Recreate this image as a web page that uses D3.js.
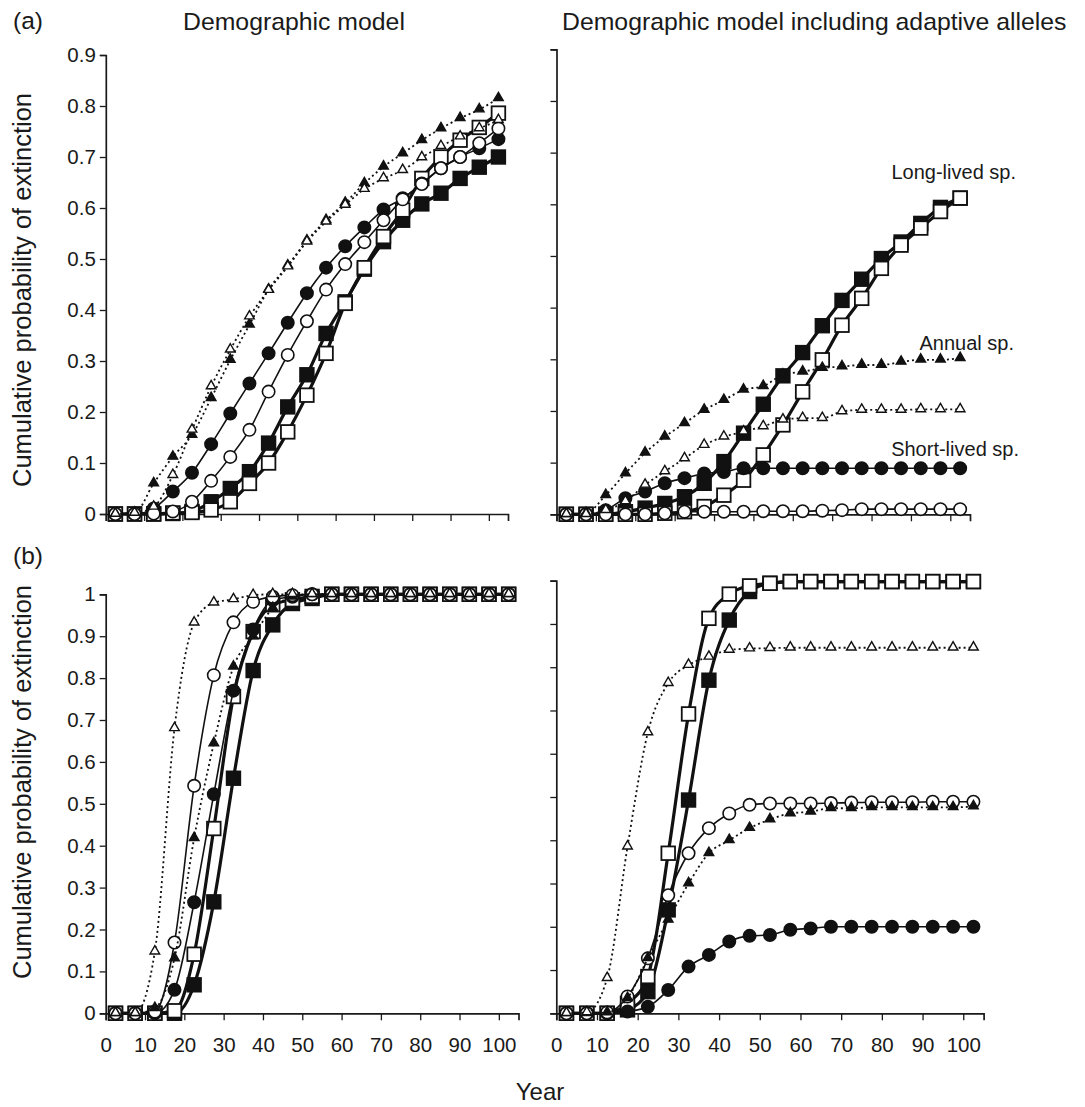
<!DOCTYPE html>
<html>
<head>
<meta charset="utf-8">
<script src="https://cdn.jsdelivr.net/npm/d3@7/dist/d3.min.js"></script>
<style>
  body { margin: 0; background: #fff; }
  svg text { font-family: "Liberation Sans", Arial, Helvetica, sans-serif; fill: #1a1a1a; }
</style>
</head>
<body>
<svg id="chart" width="1085" height="1107"></svg>
<script>
// years at which each model was sampled (mid-points of 5-year steps)
const years = [2.5, 7.5, 12.5, 17.5, 22.5, 27.5, 32.5, 37.5, 42.5, 47.5, 52.5,
               57.5, 62.5, 67.5, 72.5, 77.5, 82.5, 87.5, 92.5, 97.5, 102.5];
const xTickValues = [0, 10, 20, 30, 40, 50, 60, 70, 80, 90, 100];
const yTicksA = [0, 0.1, 0.2, 0.3, 0.4, 0.5, 0.6, 0.7, 0.8, 0.9];
const yTicksB = [0, 0.1, 0.2, 0.3, 0.4, 0.5, 0.6, 0.7, 0.8, 0.9, 1];

// (a) demographic model
const a1LongFilled   = [0, 0, 0, 0.001, 0.005, 0.024, 0.05, 0.083, 0.139, 0.21, 0.273, 0.354, 0.416, 0.48, 0.534, 0.576, 0.608, 0.629, 0.658, 0.68, 0.70];
const a1LongOpen     = [0, 0, 0, 0.002, 0.003, 0.008, 0.024, 0.06, 0.10, 0.161, 0.233, 0.315, 0.413, 0.483, 0.544, 0.596, 0.658, 0.70, 0.733, 0.758, 0.786];
const a1ShortFilled  = [0, 0, 0.011, 0.044, 0.081, 0.137, 0.197, 0.256, 0.315, 0.375, 0.433, 0.483, 0.525, 0.562, 0.597, 0.619, 0.648, 0.678, 0.70, 0.717, 0.735];
const a1ShortOpen    = [0, 0, 0.001, 0.005, 0.024, 0.065, 0.112, 0.165, 0.24, 0.312, 0.378, 0.44, 0.49, 0.533, 0.576, 0.617, 0.647, 0.678, 0.70, 0.727, 0.756];
const a1AnnualFilled = [0, 0.002, 0.06, 0.112, 0.155, 0.227, 0.302, 0.371, 0.44, 0.487, 0.536, 0.576, 0.61, 0.648, 0.681, 0.707, 0.733, 0.756, 0.776, 0.793, 0.815];
const a1AnnualOpen   = [0, 0.002, 0.014, 0.076, 0.165, 0.25, 0.322, 0.387, 0.439, 0.485, 0.534, 0.573, 0.606, 0.637, 0.658, 0.674, 0.699, 0.721, 0.74, 0.756, 0.772];

// (a) demographic model including adaptive alleles
const a2LongFilled   = [0, 0, 0, 0.005, 0.012, 0.021, 0.034, 0.06, 0.102, 0.157, 0.213, 0.268, 0.313, 0.365, 0.414, 0.455, 0.495, 0.527, 0.563, 0.594, 0.612];
const a2LongOpen     = [0, 0, 0, 0, 0, 0.002, 0.005, 0.015, 0.037, 0.066, 0.115, 0.173, 0.237, 0.299, 0.366, 0.418, 0.476, 0.521, 0.554, 0.586, 0.612];
const a2ShortFilled  = [0, 0, 0.008, 0.031, 0.044, 0.06, 0.07, 0.079, 0.082, 0.089, 0.089, 0.089, 0.089, 0.089, 0.089, 0.089, 0.089, 0.089, 0.089, 0.089, 0.089];
const a2ShortOpen    = [0, 0, 0, 0, 0, 0.002, 0.005, 0.005, 0.005, 0.005, 0.006, 0.006, 0.006, 0.007, 0.008, 0.01, 0.01, 0.01, 0.01, 0.01, 0.01];
const a2AnnualFilled = [0, 0.002, 0.037, 0.079, 0.119, 0.15, 0.176, 0.202, 0.221, 0.241, 0.248, 0.27, 0.276, 0.283, 0.286, 0.289, 0.289, 0.295, 0.299, 0.299, 0.302];
const a2AnnualOpen   = [0, 0, 0.008, 0.025, 0.057, 0.083, 0.108, 0.134, 0.15, 0.16, 0.17, 0.183, 0.186, 0.186, 0.199, 0.202, 0.202, 0.202, 0.203, 0.203, 0.203];

// (b) demographic model
const b1LongFilled   = [0, 0, 0, 0, 0.068, 0.266, 0.561, 0.818, 0.927, 0.978, 0.99, 1, 1, 1, 1, 1, 1, 1, 1, 1, 1];
const b1LongOpen     = [0, 0, 0, 0.006, 0.141, 0.441, 0.756, 0.911, 0.975, 0.987, 0.995, 1, 1, 1, 1, 1, 1, 1, 1, 1, 1];
const b1ShortFilled  = [0, 0, 0, 0.056, 0.265, 0.523, 0.77, 0.916, 0.986, 0.994, 1, 1, 1, 1, 1, 1, 1, 1, 1, 1, 1];
const b1ShortOpen    = [0, 0, 0.004, 0.169, 0.543, 0.807, 0.933, 0.982, 0.994, 0.998, 1, 1, 1, 1, 1, 1, 1, 1, 1, 1, 1];
const b1AnnualFilled = [0, 0, 0.012, 0.131, 0.418, 0.644, 0.827, 0.899, 0.967, 0.994, 1, 1, 1, 1, 1, 1, 1, 1, 1, 1, 1];
const b1AnnualOpen   = [0, 0, 0.147, 0.68, 0.932, 0.98, 0.988, 0.998, 1, 1, 1, 1, 1, 1, 1, 1, 1, 1, 1, 1, 1];

// (b) demographic model including adaptive alleles
const b2LongFilled   = [0, 0, 0, 0.008, 0.05, 0.239, 0.493, 0.77, 0.909, 0.975, 0.994, 0.998, 0.998, 0.998, 0.998, 0.998, 0.998, 0.998, 0.998, 0.998, 0.998];
const b2LongOpen     = [0, 0, 0, 0.023, 0.085, 0.37, 0.692, 0.913, 0.969, 0.988, 0.994, 0.998, 0.998, 0.998, 0.998, 0.998, 0.998, 0.998, 0.998, 0.998, 0.998];
const b2ShortFilled  = [0, 0, 0, 0.004, 0.015, 0.054, 0.108, 0.135, 0.166, 0.179, 0.181, 0.193, 0.196, 0.2, 0.2, 0.2, 0.2, 0.2, 0.2, 0.2, 0.2];
const b2ShortOpen    = [0, 0, 0.002, 0.039, 0.127, 0.273, 0.37, 0.428, 0.462, 0.482, 0.485, 0.485, 0.485, 0.486, 0.487, 0.488, 0.488, 0.488, 0.489, 0.489, 0.489];
const b2AnnualFilled = [0, 0, 0.002, 0.035, 0.127, 0.216, 0.30, 0.37, 0.40, 0.428, 0.448, 0.462, 0.466, 0.474, 0.474, 0.476, 0.476, 0.476, 0.476, 0.476, 0.478];
const b2AnnualOpen   = [0, 0.002, 0.081, 0.385, 0.649, 0.763, 0.805, 0.824, 0.84, 0.843, 0.844, 0.845, 0.845, 0.845, 0.845, 0.845, 0.845, 0.845, 0.845, 0.845, 0.845];

// series styles, in drawing order (squares under circles under triangles)
const seriesStyle = [
  { key: "longFilled",   shape: "square",   fill: "#111", lineWidth: 3.2, dash: null },
  { key: "longOpen",     shape: "square",   fill: "#fff", lineWidth: 3.2, dash: null },
  { key: "shortFilled",  shape: "circle",   fill: "#111", lineWidth: 1.6, dash: null },
  { key: "shortOpen",    shape: "circle",   fill: "#fff", lineWidth: 1.6, dash: null },
  { key: "annualFilled", shape: "triangle", fill: "#111", lineWidth: 1.8, dash: "2,3" },
  { key: "annualOpen",   shape: "triangle", fill: "#fff", lineWidth: 1.8, dash: "2,3" }
];

const panels = [
  { x0: 105.8, x1: 508,   y0: 514,    yTop: 55,    yMax: 0.9, yTicks: yTicksA, yLabels: true,  xLabels: false,
    series: { longFilled: a1LongFilled, longOpen: a1LongOpen, shortFilled: a1ShortFilled, shortOpen: a1ShortOpen, annualFilled: a1AnnualFilled, annualOpen: a1AnnualOpen } },
  { x0: 556.5, x1: 970,   y0: 514.3,  yTop: 49.3,  yMax: 0.9, yTicks: yTicksA, yLabels: false, xLabels: false,
    series: { longFilled: a2LongFilled, longOpen: a2LongOpen, shortFilled: a2ShortFilled, shortOpen: a2ShortOpen, annualFilled: a2AnnualFilled, annualOpen: a2AnnualOpen } },
  { x0: 105.7, x1: 518.5, y0: 1013.3, yTop: 594.3, yMax: 1,   yTicks: yTicksB, yLabels: true,  xLabels: true,
    series: { longFilled: b1LongFilled, longOpen: b1LongOpen, shortFilled: b1ShortFilled, shortOpen: b1ShortOpen, annualFilled: b1AnnualFilled, annualOpen: b1AnnualOpen } },
  { x0: 556.3, x1: 983.6, y0: 1013.3, yTop: 580.7, yMax: 1,   yTicks: yTicksB, yLabels: false, xLabels: true,
    series: { longFilled: b2LongFilled, longOpen: b2LongOpen, shortFilled: b2ShortFilled, shortOpen: b2ShortOpen, annualFilled: b2AnnualFilled, annualOpen: b2AnnualOpen } }
];

const svg = d3.select("#chart");
const yFmt = d => d === 0 ? "0" : d === 1 ? "1" : d3.format(".1f")(d);

const triangle = d3.symbol().type(d3.symbolTriangle).size(40);

panels.forEach(p => {
  const x = d3.scaleLinear().domain([0, 105]).range([p.x0, p.x1]);
  const y = d3.scaleLinear().domain([0, p.yMax]).range([p.y0, p.yTop]);

  // axes
  const xAxis = svg.append("g")
    .attr("transform", `translate(0,${p.y0})`)
    .call(d3.axisBottom(x).tickValues(xTickValues).tickSizeOuter(0).tickSize(7)
      .tickPadding(17).tickFormat(p.xLabels ? d3.format("d") : ""));
  const yAxis = svg.append("g")
    .attr("transform", `translate(${p.x0},0)`)
    .call(d3.axisLeft(y).tickValues(p.yTicks).tickSizeOuter(0).tickSize(6)
      .tickPadding(4).tickFormat(p.yLabels ? yFmt : ""));
  [xAxis, yAxis].forEach(ax => {
    ax.select(".domain").attr("stroke", "#1a1a1a").attr("stroke-width", 1.7);
    ax.selectAll(".tick line").attr("stroke", "#1a1a1a").attr("stroke-width", 1.3);
    ax.selectAll(".tick text").attr("font-size", 20.5).attr("font-family", null);
  });

  const line = d3.line().x((d, i) => x(years[i])).y(d => y(d)).curve(d3.curveMonotoneX);

  seriesStyle.forEach(s => {
    const vals = p.series[s.key];
    const g = svg.append("g");
    g.append("path")
      .datum(vals)
      .attr("d", line)
      .attr("fill", "none")
      .attr("stroke", "#111")
      .attr("stroke-width", s.lineWidth)
      .attr("stroke-dasharray", s.dash);

    const pts = g.selectAll(".pt").data(vals).join("g")
      .attr("transform", (d, i) => `translate(${x(years[i])},${y(d)})`);
    if (s.shape === "square") {
      pts.append("rect").attr("x", -6.8).attr("y", -6.8).attr("width", 13.6).attr("height", 13.6)
        .attr("fill", s.fill).attr("stroke", "#111").attr("stroke-width", 1.8);
    } else if (s.shape === "circle") {
      pts.append("circle").attr("r", 6.2)
        .attr("fill", s.fill).attr("stroke", "#111").attr("stroke-width", 1.6);
    } else {
      pts.append("path").attr("d", triangle).attr("transform", "translate(0,-0.5)")
        .attr("fill", s.fill).attr("stroke", "#111").attr("stroke-width", 1.4);
    }
  });
});

// panel letters and column titles
svg.append("text").attr("x", 13).attr("y", 29).attr("font-size", 24.5).text("(a)");
svg.append("text").attr("x", 13).attr("y", 564).attr("font-size", 24.5).text("(b)");
svg.append("text").attr("x", 183).attr("y", 30).attr("font-size", 24.8).text("Demographic model");
svg.append("text").attr("x", 562).attr("y", 30).attr("font-size", 24.8).text("Demographic model including adaptive alleles");

// y titles
[290, 782].forEach(cy => {
  svg.append("text")
    .attr("transform", `translate(31,${cy}) rotate(-90)`)
    .attr("text-anchor", "middle")
    .attr("font-size", 25.5)
    .text("Cumulative probability of extinction");
});

// x title
svg.append("text").attr("x", 540).attr("y", 1100).attr("text-anchor", "middle")
  .attr("font-size", 24).text("Year");

// species annotations
const notes = [
  { label: "Long-lived sp.", x: 1016, y: 179 },
  { label: "Annual sp.", x: 1014, y: 350 },
  { label: "Short-lived sp.", x: 1019, y: 456 }
];
svg.selectAll(".note").data(notes).join("text")
  .attr("x", d => d.x).attr("y", d => d.y)
  .attr("text-anchor", "end").attr("font-size", 20)
  .text(d => d.label);
</script>
</body>
</html>
